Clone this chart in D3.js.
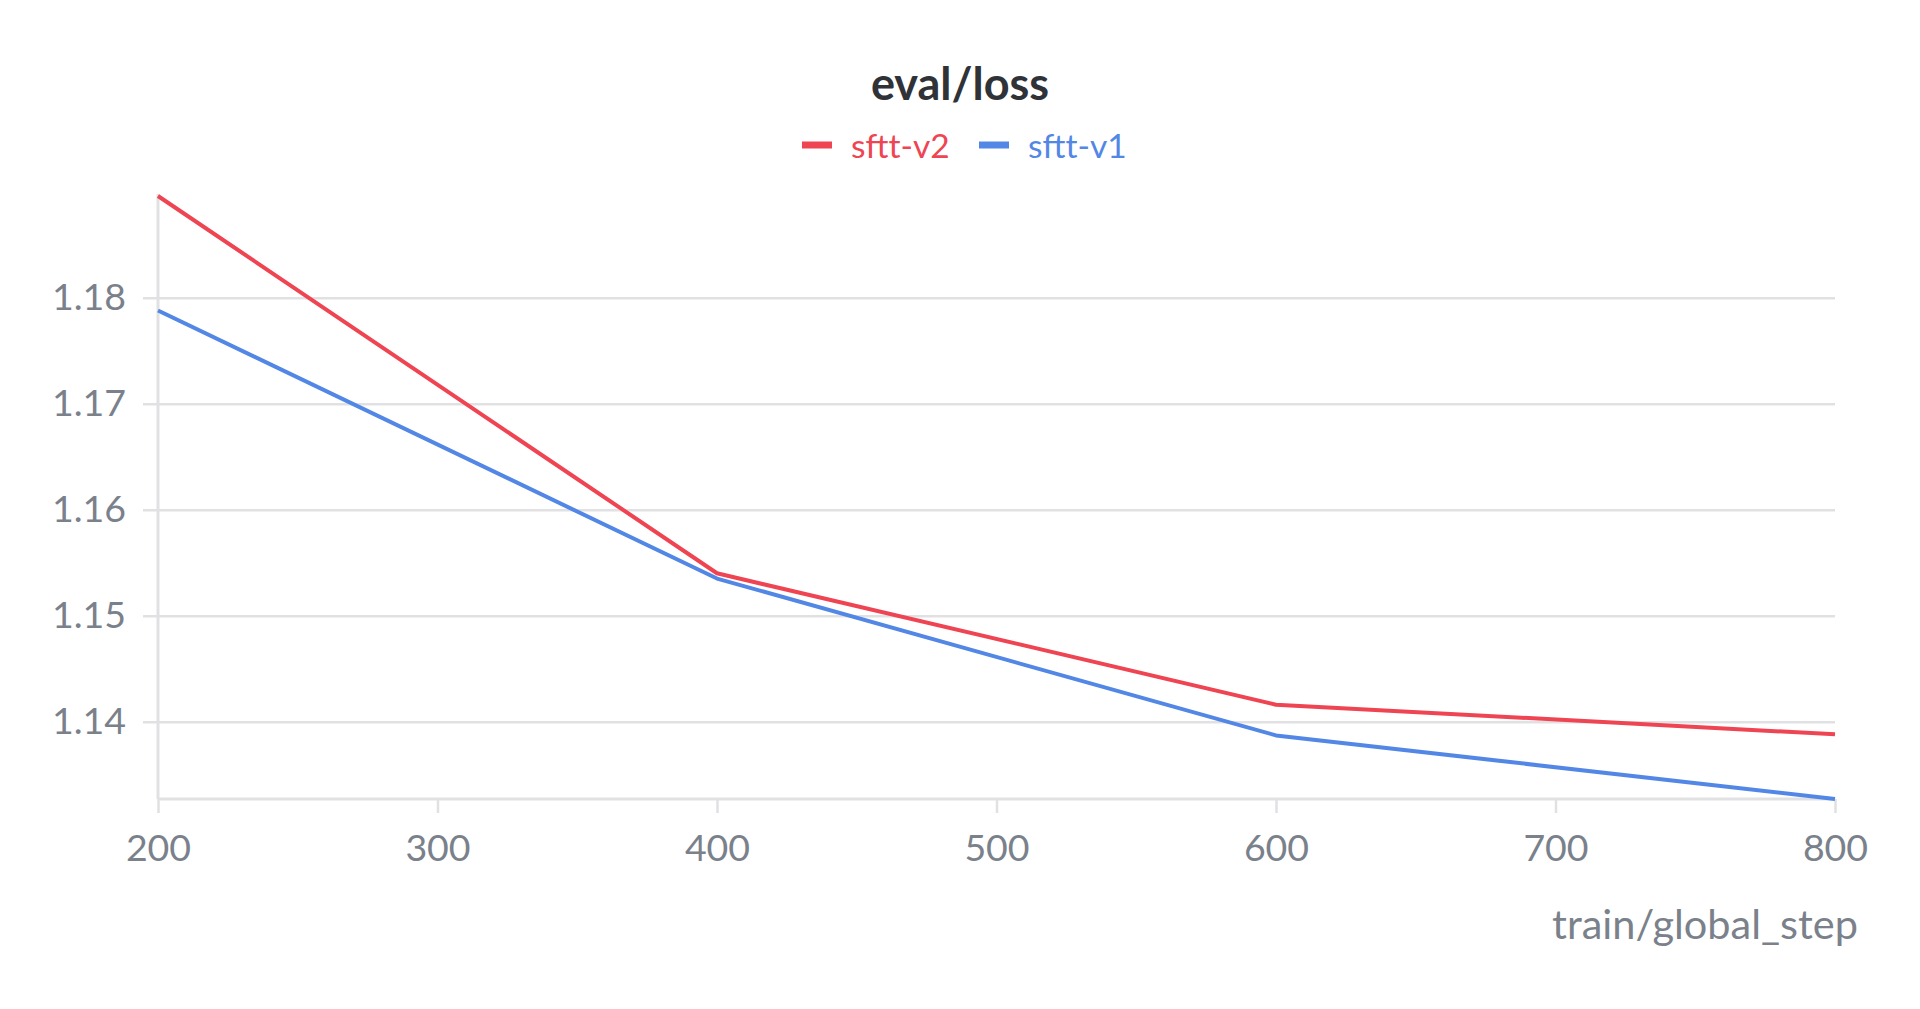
<!DOCTYPE html>
<html>
<head>
<meta charset="utf-8">
<script src="https://cdn.jsdelivr.net/npm/d3@7"></script>
<style>
  body { margin: 0; background: #fff; }
  svg text { font-family: Lato, "Noto Sans", sans-serif; }
</style>
</head>
<body>
<div id="chart"></div>
<script>
// data
var steps = [200, 400, 600, 800];
var lossV2 = [1.1896, 1.1540, 1.1416, 1.1388];
var lossV1 = [1.1788, 1.1535, 1.1387, 1.1327];
var xTicks = [200, 300, 400, 500, 600, 700, 800];
var yTicks = [1.14, 1.15, 1.16, 1.17, 1.18];
var seriesNames = ["sftt-v2", "sftt-v1"];
var seriesColors = ["#ef4452", "#5387e5"];

var svgWidth = 1920, svgHeight = 1009;
var margin = { top: 196, right: 85, bottom: 210, left: 158 };
var width = svgWidth - margin.left - margin.right;
var height = svgHeight - margin.top - margin.bottom;

var svg = d3.select("#chart").append("svg").attr("width", svgWidth).attr("height", svgHeight);
var chartGroup = svg.append("g").attr("transform", `translate(${margin.left}, ${margin.top})`);

var xScale = d3.scaleLinear().domain([200, 800]).range([0, width]);
var allVals = lossV2.concat(lossV1);
var yScale = d3.scaleLinear().domain(d3.extent(allVals)).range([height, 0]);

var gridColor = "#e1e1e4";
var tickColor = "#7a818b";

// y grid + labels
var yAxis = chartGroup.append("g").attr("transform", "translate(-15,0)")
  .call(d3.axisLeft(yScale).tickValues(yTicks).tickFormat(d3.format(".2f"))
        .tickSize(-(width + 15)).tickPadding(17));
yAxis.select(".domain").remove();
yAxis.selectAll("line").attr("stroke", gridColor).attr("stroke-width", 2.5);
yAxis.selectAll("text").attr("fill", tickColor).style("font-size", "37.5px");

// x axis
var xAxis = chartGroup.append("g").attr("transform", `translate(0, ${height})`)
  .call(d3.axisBottom(xScale).tickValues(xTicks).tickFormat(d3.format("d"))
        .tickSize(14).tickPadding(21));
xAxis.select(".domain").remove();
xAxis.selectAll("line").attr("stroke", gridColor).attr("stroke-width", 2.5);
xAxis.selectAll("text").attr("fill", tickColor).style("font-size", "37.5px");

// axis lines
chartGroup.append("line").attr("x1", 0).attr("x2", 0).attr("y1", -2).attr("y2", height)
  .attr("stroke", gridColor).attr("stroke-width", 3);
chartGroup.append("line").attr("x1", 0).attr("x2", width).attr("y1", height).attr("y2", height)
  .attr("stroke", gridColor).attr("stroke-width", 3);

// lines
var line = d3.line().x((d, i) => xScale(steps[i])).y(d => yScale(d));
[lossV1, lossV2].forEach(function(vals, k) {
  var idx = k === 0 ? 1 : 0;
  chartGroup.append("path").datum(vals)
    .attr("fill", "none").attr("stroke", seriesColors[idx])
    .attr("stroke-width", 4).attr("stroke-linejoin", "round")
    .attr("d", line);
});

// title
svg.append("text").attr("x", 960).attr("y", 100).attr("text-anchor", "middle")
  .style("font-size", "45px").style("font-weight", "bold").attr("fill", "#2f3237")
  .text("eval/loss");

// legend
var legendX = [802, 979];
seriesNames.forEach(function(name, i) {
  svg.append("line").attr("x1", legendX[i]).attr("x2", legendX[i] + 30)
    .attr("y1", 145).attr("y2", 145)
    .attr("stroke", seriesColors[i]).attr("stroke-width", 7);
  svg.append("text").attr("x", legendX[i] + 49).attr("y", 158)
    .style("font-size", "33.5px").attr("fill", seriesColors[i]).text(name);
});

// x title
svg.append("text").attr("x", 1858).attr("y", 939).attr("text-anchor", "end")
  .style("font-size", "41.5px").attr("fill", tickColor).text("train/global_step");
</script>
</body>
</html>
